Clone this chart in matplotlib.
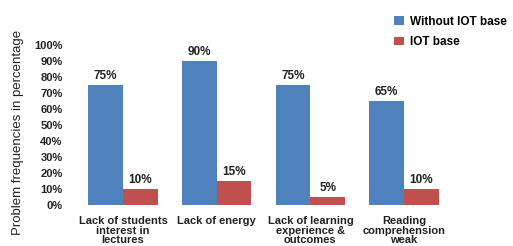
import numpy as np
import matplotlib
matplotlib.use("Agg")
import matplotlib.pyplot as plt

categories = ["Lack of students\ninterest in\nlectures", "Lack of energy",
              "Lack of learning\nexperience &\noutcomes", "Reading\ncomprehension\nweak"]
without_iot = [75, 90, 75, 65]
with_iot = [10, 15, 5, 10]
series_names = ["Without IOT base", "IOT base"]
yticks = list(range(0, 101, 10))

blue = "#4F81BD"
red = "#C0504D"
W, H = 513, 246

plt.rcParams['font.family'] = ['Liberation Sans', 'DejaVu Sans']
fig = plt.figure(figsize=(W / 100, H / 100), dpi=100)
left, right, bottom, top = 68, 470, 205, 45
ax = fig.add_axes([left / W, (H - bottom) / H, (right - left) / W, (bottom - top) / H])

x = np.arange(len(categories))
w = 0.37
b1 = ax.bar(x - w / 2, without_iot, w, color=blue, label=series_names[0])
b2 = ax.bar(x + w / 2, with_iot, w, color=red, label=series_names[1])

for bars, vals in ((b1, without_iot), (b2, with_iot)):
    for r, v in zip(bars, vals):
        ax.text(r.get_x() + r.get_width() / 2, v + 2, f"{v}%", ha="center", va="bottom",
                fontsize=8.5, fontweight="bold", color="#222222")

px = 93.7
ax.set_xlim((left - 123) / px, (right - 123) / px)
ax.set_ylim(0, 100)
ax.set_yticks(yticks)
ax.set_yticklabels([f"{t}%" for t in yticks], fontsize=8, fontweight="bold", color="#222222")
ax.set_xticks(x)
ax.set_xticklabels(categories, fontsize=8, fontweight="bold", color="#222222", linespacing=0.95)
ax.tick_params(length=0, pad=4)
ax.tick_params(axis="x", pad=8)
for s in ax.spines.values():
    s.set_visible(False)

fig.text(18 / W, (H - 132) / H, "Problem frequencies in percentage", rotation=90,
         ha="center", va="center", fontsize=9.5, color="#222222")

fig.legend(handles=[b1, b2], loc="upper left", bbox_to_anchor=(383 / W, 1 - 5 / H),
           frameon=False, prop={"weight": "bold", "size": 8.5},
           handlelength=0.9, handleheight=0.7, handletextpad=0.5, labelspacing=0.75)

fig.savefig("out.png", dpi=100)
